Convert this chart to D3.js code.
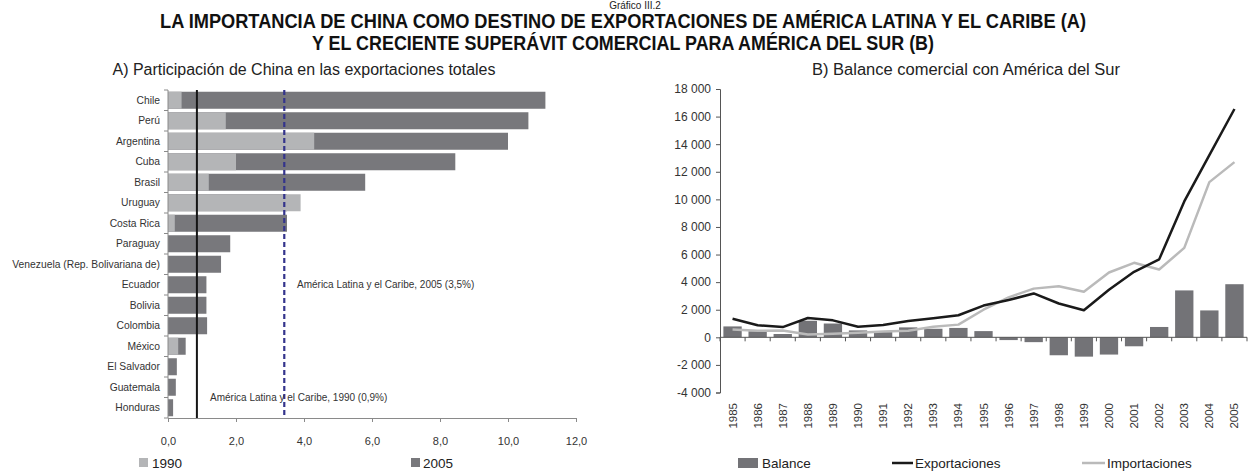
<!DOCTYPE html>
<html><head><meta charset="utf-8">
<script src="https://cdn.jsdelivr.net/npm/d3@7"></script>
<style>body{margin:0;background:#fff}svg{display:block;font-family:"Liberation Sans",Arial,Helvetica,sans-serif}</style>
</head><body><svg id="c" width="1248" height="471"></svg>
<script>
// ---------- DATA ----------
const countries = ["Chile","Perú","Argentina","Cuba","Brasil","Uruguay","Costa Rica","Paraguay",
  "Venezuela (Rep. Bolivariana de)","Ecuador","Bolivia","Colombia","México","El Salvador","Guatemala","Honduras"];
const share1990 = [0.4,1.7,4.3,2.0,1.2,3.9,0.2,0,0,0,0,0,0.3,0,0,0];
const share2005 = [11.1,10.6,10.0,8.45,5.8,3.5,3.5,1.83,1.56,1.13,1.13,1.15,0.52,0.26,0.23,0.15];
const shareTicks = [0,2,4,6,8,10,12];
const refLines = [
  {value:0.85, label:"América Latina y el Caribe, 1990 (0,9%)"},
  {value:3.42, label:"América Latina y el Caribe, 2005 (3,5%)"}
];
const years = ["1985","1986","1987","1988","1989","1990","1991","1992","1993","1994","1995",
  "1996","1997","1998","1999","2000","2001","2002","2003","2004","2005"];
const exportaciones = [1350,880,740,1400,1230,760,900,1180,1380,1600,2300,2700,3180,2450,1960,3450,4750,5650,9850,13200,16550];
const importaciones = [560,480,500,200,250,330,420,470,760,920,2000,2900,3530,3700,3300,4700,5400,4920,6480,11250,12700];
const balance = [790,440,240,1200,1000,500,380,720,620,680,450,-200,-350,-1300,-1400,-1250,-650,750,3400,1950,3850];
const balanceTicks = [-4000,-2000,0,2000,4000,6000,8000,10000,12000,14000,16000,18000];

// ---------- STYLE ----------
const C_LIGHT = "#b4b5b7", C_DARK = "#78787c", C_TEXT = "#333", C_AXIS = "#8a8a8a";
const svg = d3.select("#c");

// ---------- TITLES ----------
svg.append("text").attr("x",635).attr("y",9).attr("text-anchor","middle")
  .attr("font-size",10).attr("fill","#222").text("Gráfico III.2");
svg.append("text").attr("x",623).attr("y",27.5).attr("text-anchor","middle")
  .attr("font-size",19.5).attr("font-weight","bold").attr("fill","#111")
  .attr("textLength",926).attr("lengthAdjust","spacingAndGlyphs")
  .text("LA IMPORTANCIA DE CHINA COMO DESTINO DE EXPORTACIONES DE AMÉRICA LATINA Y EL CARIBE (A)");
svg.append("text").attr("x",623).attr("y",49.5).attr("text-anchor","middle")
  .attr("font-size",19.5).attr("font-weight","bold").attr("fill","#111")
  .attr("textLength",622).attr("lengthAdjust","spacingAndGlyphs")
  .text("Y EL CRECIENTE SUPERÁVIT COMERCIAL PARA AMÉRICA DEL SUR (B)");
svg.append("text").attr("x",304).attr("y",75).attr("text-anchor","middle")
  .attr("font-size",16).attr("fill","#222")
  .attr("textLength",383).attr("lengthAdjust","spacingAndGlyphs")
  .text("A) Participación de China en las exportaciones totales");
svg.append("text").attr("x",966).attr("y",75).attr("text-anchor","middle")
  .attr("font-size",16).attr("fill","#222")
  .attr("textLength",308).attr("lengthAdjust","spacingAndGlyphs")
  .text("B) Balance comercial con América del Sur");

// ---------- LEFT CHART ----------
const xL = d3.scaleLinear().domain([0,12]).range([168,576]);
const yL = d3.scaleBand().domain(countries).range([90,418]).paddingInner(0.17).paddingOuter(0.085);
const L = svg.append("g");
const rows = countries.map((c,i)=>({c, v90:share1990[i], v05:share2005[i]}));
L.selectAll("rect.d").data(rows).join("rect").attr("class","d")
  .attr("x",xL(0)).attr("y",d=>yL(d.c)).attr("height",yL.bandwidth())
  .attr("width",d=>xL(d.v05)-xL(0)).attr("fill",C_DARK);
L.selectAll("rect.l").data(rows.filter(d=>d.v90>0)).join("rect").attr("class","l")
  .attr("x",xL(0)).attr("y",d=>yL(d.c)).attr("height",yL.bandwidth())
  .attr("width",d=>xL(d.v90)-xL(0)).attr("fill",C_LIGHT);
// category axis
const [y0L,y1L] = yL.range();
L.append("line").attr("x1",xL(0)).attr("x2",xL(0)).attr("y1",y0L).attr("y2",y1L).attr("stroke",C_AXIS);
d3.range(countries.length+1).forEach(i=>{
  const yy = y0L + i*yL.step();
  L.append("line").attr("x1",xL(0)-4).attr("x2",xL(0)).attr("y1",yy).attr("y2",yy).attr("stroke",C_AXIS);
});
L.selectAll("text.cat").data(countries).join("text").attr("class","cat")
  .attr("x",160).attr("y",d=>yL(d)+yL.bandwidth()/2).attr("dy","0.35em")
  .attr("text-anchor","end").attr("font-size",10.3).attr("fill",C_TEXT).text(d=>d);
// value axis
const axL = L.append("g").attr("transform",`translate(0,${y1L})`)
  .call(d3.axisBottom(xL).tickValues(shareTicks).tickSize(4).tickPadding(15)
    .tickFormat(d=>d3.format(".1f")(d).replace(".",",")));
axL.select(".domain").attr("stroke",C_AXIS);
axL.selectAll(".tick line").attr("stroke",C_AXIS);
axL.selectAll(".tick text").attr("font-size",11).attr("fill",C_TEXT).attr("font-family",null);
// reference lines
L.append("line").attr("x1",xL(refLines[0].value)).attr("x2",xL(refLines[0].value))
  .attr("y1",y0L).attr("y2",y1L).attr("stroke","#151515").attr("stroke-width",2);
L.append("line").attr("x1",xL(refLines[1].value)).attr("x2",xL(refLines[1].value))
  .attr("y1",y0L).attr("y2",y1L).attr("stroke","#34348c").attr("stroke-width",2.2)
  .attr("stroke-dasharray","5,3");
L.append("text").attr("x",210).attr("y",400.5).attr("font-size",10).attr("fill",C_TEXT).text(refLines[0].label);
L.append("text").attr("x",297).attr("y",287.5).attr("font-size",10).attr("fill",C_TEXT).text(refLines[1].label);
// legend
L.append("rect").attr("x",139).attr("y",458).attr("width",9).attr("height",9).attr("fill",C_LIGHT);
L.append("text").attr("x",152).attr("y",468).attr("font-size",13.5).attr("fill","#222").text("1990");
L.append("rect").attr("x",411).attr("y",458).attr("width",9).attr("height",9).attr("fill",C_DARK);
L.append("text").attr("x",423).attr("y",468).attr("font-size",13.5).attr("fill","#222").text("2005");

// ---------- RIGHT CHART ----------
const xR = d3.scaleBand().domain(years).range([720,1247]).paddingInner(0.27).paddingOuter(0.135);
const yR = d3.scaleLinear().domain([-4000,18000]).range([392.5,89]);
const R = svg.append("g");
const recs = years.map((y,i)=>({y, e:exportaciones[i], m:importaciones[i], b:balance[i]}));
R.selectAll("rect.b").data(recs).join("rect").attr("class","b")
  .attr("x",d=>xR(d.y)).attr("width",xR.bandwidth())
  .attr("y",d=>yR(Math.max(0,d.b))).attr("height",d=>Math.abs(yR(d.b)-yR(0)))
  .attr("fill","#737377");
const loc = d3.formatLocale({decimal:",",thousands:" ",grouping:[3],currency:["",""],minus:"-"});
const fmt = loc.format(",");
const axY = R.append("g").attr("transform","translate(720,0)")
  .call(d3.axisLeft(yR).tickValues(balanceTicks).tickSize(4).tickPadding(5).tickFormat(fmt));
axY.select(".domain").attr("stroke","#555");
axY.selectAll(".tick line").attr("stroke","#555");
axY.selectAll(".tick text").attr("font-size",12).attr("fill",C_TEXT).attr("font-family",null);
// category axis at zero
const [x0R,x1R] = xR.range();
R.append("line").attr("x1",x0R).attr("x2",x1R).attr("y1",yR(0)).attr("y2",yR(0)).attr("stroke","#555");
d3.range(years.length+1).forEach(i=>{
  const xx = x0R + i*xR.step();
  R.append("line").attr("x1",xx).attr("x2",xx).attr("y1",yR(0)).attr("y2",yR(0)+4).attr("stroke","#555");
});
R.selectAll("text.yr").data(years).join("text").attr("class","yr")
  .attr("transform",d=>`translate(${xR(d)+xR.bandwidth()/2},403) rotate(-90)`)
  .attr("dy","0.35em").attr("text-anchor","end").attr("font-size",11.5).attr("fill",C_TEXT).text(d=>d);
const cx = d=>xR(d.y)+xR.bandwidth()/2;
R.append("path").datum(recs).attr("fill","none").attr("stroke","#bababa").attr("stroke-width",2.5)
  .attr("stroke-linejoin","round").attr("d",d3.line().x(cx).y(d=>yR(d.m)));
R.append("path").datum(recs).attr("fill","none").attr("stroke","#1a1a1a").attr("stroke-width",2.5)
  .attr("stroke-linejoin","round").attr("d",d3.line().x(cx).y(d=>yR(d.e)));
// legend
R.append("rect").attr("x",738).attr("y",458).attr("width",20).attr("height",10).attr("fill","#737377");
R.append("text").attr("x",762).attr("y",468).attr("font-size",13.5).attr("fill","#222").text("Balance");
R.append("line").attr("x1",892).attr("x2",913).attr("y1",463).attr("y2",463).attr("stroke","#1a1a1a").attr("stroke-width",2.5);
R.append("text").attr("x",915).attr("y",468).attr("font-size",13.5).attr("fill","#222").text("Exportaciones");
R.append("line").attr("x1",1082).attr("x2",1105).attr("y1",463).attr("y2",463).attr("stroke","#bababa").attr("stroke-width",2.5);
R.append("text").attr("x",1107).attr("y",468).attr("font-size",13.5).attr("fill","#222").text("Importaciones");
</script></body></html>
